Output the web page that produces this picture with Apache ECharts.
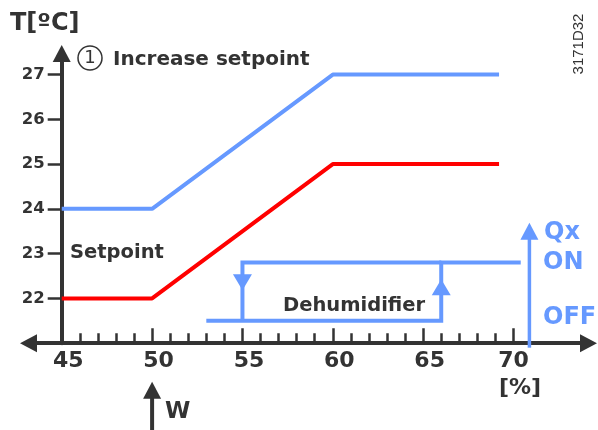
<!DOCTYPE html>
<html>
<head>
<meta charset="utf-8">
<script src="https://cdn.jsdelivr.net/npm/echarts@6/dist/echarts.min.js"></script>
<style>
html,body{margin:0;padding:0;background:#fff;}
#chart{width:598px;height:430px;}
</style>
</head>
<body>
<div id="chart"></div>
<script>
// ---- data ----
const xTickValues = [45, 50, 55, 60, 65, 70];
const xMinorTickValues = [46, 47, 48, 49, 51, 52, 53, 54, 56, 57, 58, 59, 61, 62, 63, 64, 66, 67, 68, 69];
const yTickValues = [22, 23, 24, 25, 26, 27];

const curveX = [45, 50, 60, 69.2];
const increasedSetpoint = [24, 24, 27, 27];
const setpoint = [22, 22, 25, 25];

// dehumidifier hysteresis loop
const hystOuterX = [53, 66, 66, 70.4];
const hystOuterY = [21.5, 21.5, 22.8, 22.8];
const hystInnerX = [55, 55, 66];
const hystInnerY = [21.5, 22.8, 22.8];
const hystArrowDown = [55, 22.36];
const hystArrowUp = [66, 22.25];

// Qx on/off axis
const qxX = [70.88, 70.88];
const qxY = [20.9, 23.5];

// W marker
const wX = [50, 50];
const wY = [19.0, 19.95];

const dark = '#333333';
const blue = '#6699ff';
const red = '#ff0000';

function pairs(xs, ys) { return xs.map((x, i) => [x, ys[i]]); }

const chart = echarts.init(document.getElementById('chart'), null, {renderer: 'canvas'});

const xMin = 43.16, xMax = 74.15;
const gridLeft = 28.5;
const yAxisOffset = -(61.7 - gridLeft);

const option = {
  animation: false,
  backgroundColor: '#fff',
  grid: {left: gridLeft, right: 9.5, top: 53.5, bottom: 86.8, containLabel: false, outerBoundsMode: 'none'},
  xAxis: [{
    type: 'value', min: xMin, max: xMax,
    axisLine: {show: true, symbol: ['triangle', 'triangle'], symbolSize: [18, 17], lineStyle: {color: dark, width: 4}},
    axisTick: {show: true, inside: true, length: 15, customValues: xTickValues, lineStyle: {color: dark, width: 2.5}},
    axisLabel: {
      show: true, customValues: xTickValues, margin: 7,
      formatter: function (v) { return v === 70 ? '{e|' + v + '}' : '{m|' + v + '}'; },
      rich: {
        m: {fontFamily: 'DejaVu Sans', fontWeight: 'bold', fontSize: 22, color: dark, padding: [0, 0, 0, 13]},
        e: {fontFamily: 'DejaVu Sans', fontWeight: 'bold', fontSize: 22, color: dark}
      }
    },
    splitLine: {show: false}
  }, {
    type: 'value', min: xMin, max: xMax, position: 'bottom',
    axisLine: {show: false},
    axisTick: {show: true, inside: true, length: 10, customValues: xMinorTickValues, lineStyle: {color: dark, width: 2.5}},
    axisLabel: {show: false},
    splitLine: {show: false}
  }],
  yAxis: [{
    type: 'value', min: 21, max: 27.47, offset: yAxisOffset,
    axisLine: {show: true, symbol: ['none', 'triangle'], symbolSize: [18, 17], lineStyle: {color: dark, width: 4}},
    axisTick: {show: true, inside: false, length: 14, customValues: yTickValues, lineStyle: {color: dark, width: 2.5}},
    axisLabel: {show: true, customValues: yTickValues, margin: 17, fontFamily: 'DejaVu Sans', fontWeight: 'bold', fontSize: 16.5, color: dark},
    splitLine: {show: false}
  }],
  series: [
    {type: 'line', data: pairs(curveX, increasedSetpoint), symbol: 'none', lineStyle: {color: blue, width: 4}, z: 3},
    {type: 'line', data: pairs(curveX, setpoint), symbol: 'none', lineStyle: {color: red, width: 4}, z: 3},
    {type: 'line', data: pairs(hystOuterX, hystOuterY), symbol: 'none', lineStyle: {color: blue, width: 4, join: 'miter'}, z: 3},
    {type: 'line', data: pairs(hystInnerX, hystInnerY), symbol: 'none', lineStyle: {color: blue, width: 4, join: 'miter'}, z: 3},
    {type: 'scatter', data: [hystArrowDown], symbol: 'triangle', symbolSize: [19, 16], symbolRotate: 180, itemStyle: {color: blue, opacity: 1}, z: 4},
    {type: 'scatter', data: [hystArrowUp], symbol: 'triangle', symbolSize: [19, 16], itemStyle: {color: blue, opacity: 1}, z: 4},
    {type: 'line', data: pairs(qxX, qxY), symbol: 'none', clip: false, lineStyle: {color: blue, width: 3.5}, z: 3},
    {type: 'scatter', data: [[qxX[1], qxY[1]]], symbol: 'triangle', symbolSize: [18, 17], clip: false, itemStyle: {color: blue, opacity: 1}, z: 4},
    {type: 'line', data: pairs(wX, wY), symbol: 'none', clip: false, lineStyle: {color: dark, width: 4}, z: 3},
    {type: 'scatter', data: [[wX[1], wY[1]]], symbol: 'triangle', symbolSize: [18, 17], clip: false, itemStyle: {color: dark, opacity: 1}, z: 4}
  ],
  graphic: [
    {type: 'text', left: 10, top: 12, style: {text: 'T[ºC]', font: 'bold 24px "DejaVu Sans"', fill: dark}},
    {type: 'circle', shape: {cx: 90, cy: 58, r: 12}, style: {fill: 'none', stroke: dark, lineWidth: 1.5}},
    {type: 'text', x: 90, y: 58, style: {text: '1', font: '18px "DejaVu Sans"', fill: dark, align: 'center', verticalAlign: 'middle'}},
    {type: 'text', x: 113, y: 60, style: {text: 'Increase setpoint', font: 'bold 20px "DejaVu Sans"', fill: dark, verticalAlign: 'middle'}},
    {type: 'text', x: 70, y: 253, style: {text: 'Setpoint', font: 'bold 19.5px "DejaVu Sans"', fill: dark, verticalAlign: 'middle'}},
    {type: 'text', x: 283, y: 306, style: {text: 'Dehumidifier', font: 'bold 19.5px "DejaVu Sans"', fill: dark, verticalAlign: 'middle'}},
    {type: 'text', x: 544, y: 233, style: {text: 'Qx', font: 'bold 24px "DejaVu Sans"', fill: blue, verticalAlign: 'middle'}},
    {type: 'text', x: 543, y: 263, style: {text: 'ON', font: 'bold 24px "DejaVu Sans"', fill: blue, verticalAlign: 'middle'}},
    {type: 'text', x: 543, y: 318, style: {text: 'OFF', font: 'bold 24px "DejaVu Sans"', fill: blue, verticalAlign: 'middle'}},
    {type: 'text', x: 520, y: 388, style: {text: '[%]', font: 'bold 22px "DejaVu Sans"', fill: dark, align: 'center', verticalAlign: 'middle'}},
    {type: 'text', x: 165, y: 412, style: {text: 'W', font: 'bold 23px "DejaVu Sans"', fill: dark, verticalAlign: 'middle'}},
    {type: 'text', x: 579, y: 44, rotation: Math.PI / 2, style: {text: '3171D32', font: '15px "Liberation Sans"', fill: dark, align: 'center', verticalAlign: 'middle'}}
  ]
};
chart.setOption(option);
</script>
</body>
</html>
